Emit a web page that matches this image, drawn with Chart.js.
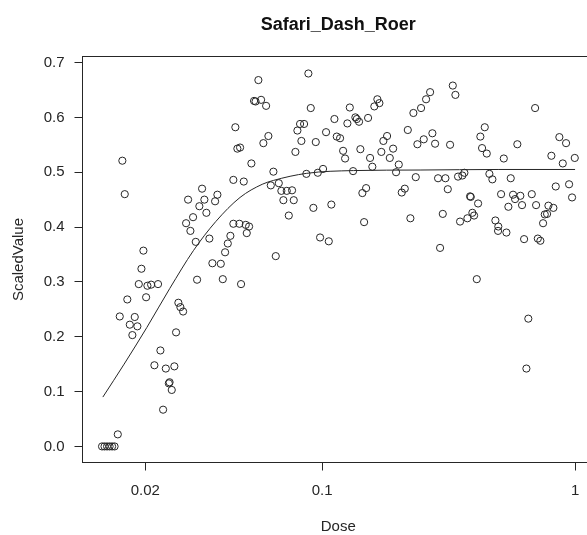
<!DOCTYPE html>
<html>
<head>
<meta charset="utf-8">
<title>Safari_Dash_Roer</title>
<script src="https://cdn.jsdelivr.net/npm/chart.js@4.4.1/dist/chart.umd.min.js"></script>
<style>
  html, body { margin: 0; padding: 0; background: #fff; overflow: hidden; }
  canvas { display: block; }
</style>
</head>
<body>
<canvas id="doseChart" width="600" height="535"></canvas>
<script>
var doseValues = [
  0.01558, 0.01350, 0.01381, 0.01413, 0.01446, 0.01479, 0.01513, 0.01624, 0.0166, 0.01586,
  0.01699, 0.01738, 0.01779, 0.01818, 0.01862, 0.01886, 0.01932, 0.01967, 0.02016, 0.0204,
  0.0211, 0.02247, 0.02174, 0.02296, 0.02353, 0.02412, 0.02479, 0.02496, 0.02546, 0.02607,
  0.02648, 0.02704, 0.02754, 0.02823, 0.03206, 0.03685, 0.03978, 0.04051, 0.04137, 0.04784,
  0.04542, 0.04626, 0.0446, 0.04903, 0.03355, 0.02954, 0.03426, 0.03857, 0.03777, 0.03273,
  0.03489, 0.03091, 0.02901, 0.03017, 0.03168, 0.03585, 0.04341, 0.0424, 0.0446, 0.04711,
  0.04993, 0.05039, 0.05146, 0.05601, 0.08828, 0.05385, 0.0546, 0.05741, 0.06009, 0.09022,
  0.1287, 0.1654, 0.1685, 0.1609, 0.1119, 0.1354, 0.1372, 0.1400, 0.1520, 0.1259,
  0.08185, 0.0849, 0.07988, 0.1037, 0.06135, 0.05861, 0.08284, 0.09443, 0.1143, 0.1178,
  0.1807, 0.1747, 0.2182, 0.2381, 0.04741, 0.07845, 0.1211, 0.1233, 0.1417, 0.1548,
  0.1715, 0.1909, 0.1852, 0.1580, 0.2010, 0.05255, 0.06421, 0.08668, 0.09616, 0.1009,
  0.1326, 0.1961, 0.2346, 0.06271, 0.06744, 0.06904, 0.07252, 0.07609, 0.07031, 0.07728,
  0.09239, 0.1088, 0.07387, 0.1493, 0.1443, 0.2123, 0.2065, 0.1466, 0.2234, 0.0982,
  0.1063, 0.06561, 0.3286, 0.3365, 0.2673, 0.2577, 0.2462, 0.2296, 0.6951, 0.4396,
  0.4223, 0.2729, 0.2523, 0.2797, 0.3206, 0.4289, 0.4477, 0.5913, 0.5227, 0.8668,
  0.9213, 0.8060, 0.8941, 0.9972, 0.2874, 0.3073, 0.3447, 0.3585, 0.3652, 0.4585,
  0.4711, 0.5568, 0.3140, 0.3846, 0.3870, 0.4137, 0.5100, 0.5687, 0.6077, 0.5792,
  0.6744, 0.5450, 0.6172, 0.7013, 0.7845, 0.8209, 0.7751, 0.7590, 0.8387, 0.9469,
  0.9730, 0.3000, 0.3927, 0.3989, 0.3753, 0.3511, 0.4842, 0.4973, 0.4961, 0.5353,
  0.6288, 0.7124, 0.7292, 0.2927, 0.7474, 0.4088, 0.6534, 0.6421
];
var scaledValues = [
  0.022, 0, 0, 0, 0, 0, 0, 0.521, 0.460, 0.237,
  0.268, 0.222, 0.203, 0.236, 0.219, 0.296, 0.324, 0.357, 0.272, 0.293,
  0.295, 0.296, 0.148, 0.175, 0.067, 0.142, 0.115, 0.117, 0.103, 0.146,
  0.208, 0.262, 0.254, 0.246, 0.304, 0.334, 0.333, 0.305, 0.354, 0.296,
  0.582, 0.543, 0.486, 0.483, 0.470, 0.450, 0.450, 0.459, 0.447, 0.438,
  0.426, 0.418, 0.407, 0.393, 0.373, 0.379, 0.384, 0.370, 0.406, 0.406,
  0.404, 0.389, 0.401, 0.668, 0.680, 0.630, 0.629, 0.632, 0.621, 0.617,
  0.618, 0.633, 0.626, 0.620, 0.597, 0.600, 0.597, 0.592, 0.599, 0.589,
  0.588, 0.588, 0.576, 0.573, 0.566, 0.553, 0.557, 0.555, 0.565, 0.562,
  0.566, 0.557, 0.577, 0.551, 0.545, 0.537, 0.539, 0.525, 0.542, 0.526,
  0.537, 0.543, 0.526, 0.510, 0.514, 0.516, 0.501, 0.497, 0.499, 0.506,
  0.502, 0.500, 0.491, 0.476, 0.480, 0.466, 0.466, 0.467, 0.449, 0.449,
  0.435, 0.441, 0.421, 0.471, 0.462, 0.470, 0.463, 0.409, 0.416, 0.381,
  0.374, 0.347, 0.658, 0.641, 0.646, 0.633, 0.617, 0.608, 0.617, 0.582,
  0.565, 0.571, 0.560, 0.552, 0.550, 0.544, 0.534, 0.551, 0.525, 0.564,
  0.553, 0.530, 0.516, 0.526, 0.489, 0.489, 0.492, 0.494, 0.499, 0.497,
  0.487, 0.489, 0.469, 0.456, 0.455, 0.443, 0.460, 0.459, 0.457, 0.451,
  0.460, 0.437, 0.440, 0.440, 0.439, 0.435, 0.424, 0.423, 0.474, 0.478,
  0.454, 0.424, 0.426, 0.421, 0.416, 0.410, 0.412, 0.401, 0.393, 0.390,
  0.378, 0.379, 0.375, 0.362, 0.407, 0.305, 0.233, 0.142
];

// fitted curve, read at a few doses
var curveDose = [0.0136, 0.0165, 0.0203, 0.025, 0.031, 0.038, 0.0474, 0.058, 0.0642, 0.087, 0.133, 0.244, 0.5, 1.0];
var curveValue = [0.090, 0.150, 0.217, 0.288, 0.357, 0.410, 0.454, 0.478, 0.485, 0.498, 0.503, 0.504, 0.505, 0.505];

var xTickValues = [0.02, 0.1, 1];
var yTickValues = [0, 0.1, 0.2, 0.3, 0.4, 0.5, 0.6, 0.7];

var ink = '#262626';
var fontFamily = '"Liberation Sans", Arial, Helvetica, sans-serif';

var points = doseValues.map(function(d, i) { return { x: d, y: scaledValues[i] }; });
var curve = curveDose.map(function(d, i) { return { x: d, y: curveValue[i] }; });

// box, main title and axis titles
var rFrame = {
    id: 'rFrame',
    afterDraw: function(chart) {
        var ctx = chart.ctx;
        var a = chart.chartArea;
        ctx.save();
        ctx.strokeStyle = ink;
        ctx.lineWidth = 1;
        ctx.strokeRect(a.left, a.top, a.right - a.left, a.bottom - a.top);

        var cx = (a.left + a.right) / 2;
        ctx.fillStyle = '#111';
        ctx.textAlign = 'center';
        ctx.textBaseline = 'middle';
        ctx.font = 'bold 18px ' + fontFamily;
        ctx.fillText('Safari_Dash_Roer', cx, 25);

        ctx.fillStyle = ink;
        ctx.font = '15px ' + fontFamily;
        ctx.fillText('Dose', cx, 527);

        ctx.translate(19, (a.top + a.bottom) / 2);
        ctx.rotate(-Math.PI / 2);
        ctx.fillText('ScaledValue', 0, 0);
        ctx.restore();
    }
};

var ctx = document.getElementById('doseChart').getContext('2d');
new Chart(ctx, {
    type: 'scatter',
    data: {
        datasets: [{
            label: 'ScaledValue',
            data: points,
            pointStyle: 'circle',
            pointRadius: 3.6,
            pointBorderWidth: 1,
            borderColor: ink,
            backgroundColor: 'rgba(0,0,0,0)'
        }, {
            label: 'fit',
            data: curve,
            showLine: true,
            pointRadius: 0,
            borderColor: ink,
            borderWidth: 1,
            cubicInterpolationMode: 'monotone',
            fill: false
        }]
    },
    options: {
        responsive: false,
        animation: false,
        events: [],
        layout: { padding: { top: 56.5, right: 6, left: 0, bottom: 0 } },
        plugins: {
            legend: { display: false },
            tooltip: { enabled: false },
            title: { display: false }
        },
        scales: {
            x: {
                type: 'logarithmic',
                min: 0.0113,
                max: 1.188,
                border: { display: false },
                grid: { drawOnChartArea: false, drawTicks: true, tickLength: 8, color: ink },
                ticks: {
                    autoSkip: false,
                    maxRotation: 0,
                    padding: 11,
                    color: ink,
                    font: { family: fontFamily, size: 15 },
                    callback: function(v) { return String(v); }
                },
                afterBuildTicks: function(scale) {
                    scale.ticks = xTickValues.map(function(v) { return { value: v }; });
                },
                afterFit: function(scale) { scale.height = 72.5; }
            },
            y: {
                min: -0.0293,
                max: 0.711,
                border: { display: false },
                grid: { drawOnChartArea: false, drawTicks: true, tickLength: 8, color: ink },
                ticks: {
                    autoSkip: false,
                    padding: 10,
                    color: ink,
                    font: { family: fontFamily, size: 15 },
                    callback: function(v) { return v.toFixed(1); }
                },
                afterBuildTicks: function(scale) {
                    scale.ticks = yTickValues.map(function(v) { return { value: v }; });
                },
                afterFit: function(scale) { scale.width = 82.5; }
            }
        }
    },
    plugins: [rFrame]
});
</script>
</body>
</html>
